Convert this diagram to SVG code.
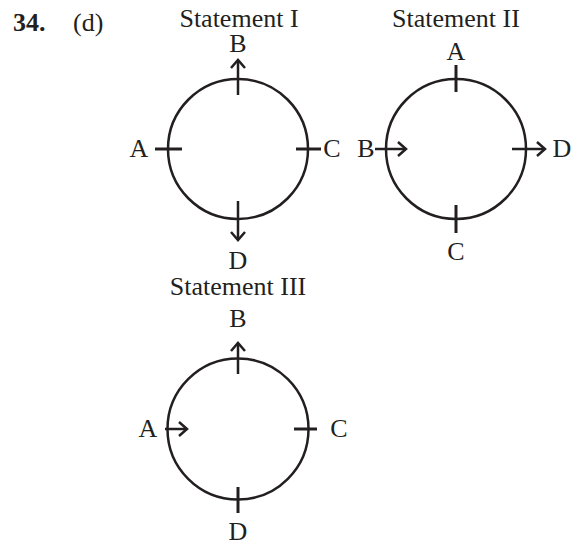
<svg xmlns="http://www.w3.org/2000/svg" width="572" height="543" viewBox="0 0 572 543">
<style>
text{font-family:"Liberation Serif","Times New Roman",serif;font-size:26px;fill:#231f20}
.lbl{text-anchor:middle}
.circ{fill:none;stroke:#231f20;stroke-width:2.5}
.tick{stroke:#231f20;stroke-width:3;fill:none}
.arr{stroke:#231f20;stroke-width:2.5;fill:none;marker-end:url(#ah)}
</style>
<defs>
<marker id="ah" markerUnits="userSpaceOnUse" markerWidth="20" markerHeight="20" viewBox="-12 -10 14 20" refX="0" refY="0" orient="auto">
<path d="M-8,-7 L0,0 L-8,7" fill="none" stroke="#231f20" stroke-width="2.5"/>
</marker>
</defs>
<rect width="572" height="543" fill="#fff"/>
<text x="13" y="31" style="font-weight:bold">34.</text>
<text x="73" y="31">(d)</text>
<g id="statement1">
<text class="lbl" x="239" y="27">Statement I</text>
<circle class="circ" cx="238" cy="149" r="70"/>
<g class="connectors">
<line class="arr" x1="238" y1="95" x2="238" y2="60"/>
<line class="tick" x1="155" y1="149" x2="182" y2="149"/>
<line class="tick" x1="296" y1="149" x2="321" y2="149"/>
<line class="arr" x1="238" y1="201" x2="238" y2="240"/>
</g>
<text class="lbl" x="238" y="52">B</text>
<text class="lbl" x="139" y="157">A</text>
<text class="lbl" x="332" y="157">C</text>
<text class="lbl" x="238" y="269">D</text>
</g>
<g id="statement2">
<text class="lbl" x="456" y="27">Statement II</text>
<circle class="circ" cx="456" cy="149" r="70"/>
<g class="connectors">
<line class="tick" x1="456" y1="65" x2="456" y2="92"/>
<line class="tick" x1="456" y1="205" x2="456" y2="233"/>
<line class="arr" x1="375" y1="149" x2="406" y2="149"/>
<line class="arr" x1="512" y1="149" x2="545" y2="149"/>
</g>
<text class="lbl" x="456" y="60">A</text>
<text class="lbl" x="366" y="157">B</text>
<text class="lbl" x="456" y="260">C</text>
<text class="lbl" x="562" y="157">D</text>
</g>
<g id="statement3">
<text class="lbl" x="238" y="295">Statement III</text>
<circle class="circ" cx="238" cy="429" r="70.5"/>
<g class="connectors">
<line class="arr" x1="238" y1="374" x2="238" y2="343"/>
<line class="arr" x1="165" y1="429" x2="187" y2="429"/>
<line class="tick" x1="294" y1="429" x2="317" y2="429"/>
<line class="tick" x1="238" y1="487" x2="238" y2="513"/>
</g>
<text class="lbl" x="238" y="327">B</text>
<text class="lbl" x="148" y="437">A</text>
<text class="lbl" x="339" y="437">C</text>
<text class="lbl" x="238" y="540">D</text>
</g>
</svg>
